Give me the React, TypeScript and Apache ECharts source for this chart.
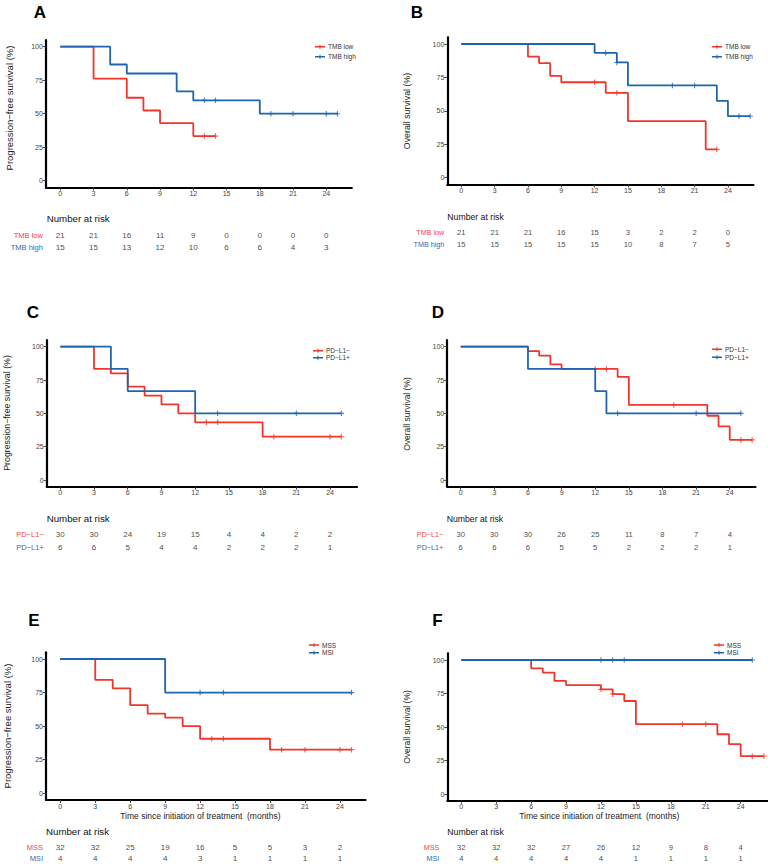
import React, { useEffect, useRef } from 'react';
import * as echarts from 'echarts';

const FONT = '"Liberation Sans", Arial, Helvetica, sans-serif';
const RED = '#F2352B';
const BLUE = '#1F64AE';
const RED_LABEL = '#F2453C';
const BLUE_LABEL = '#2A6CB8';

const xTicks = [0, 3, 6, 9, 12, 15, 18, 21, 24];
const yTicks = [0, 25, 50, 75, 100];
const riskTimes = [0, 3, 6, 9, 12, 15, 18, 21, 24];

// ---------- A: PFS by TMB ----------
const aLowTimes = [0, 3, 6, 7.5, 9, 12, 14];
const aLowSurv = [100, 76.2, 61.9, 52.4, 42.9, 33.3, 33.3];
const aLowCensor = [13, 14];
const aLowRisk = [21, 21, 16, 11, 9, 0, 0, 0, 0];
const aHighTimes = [0, 4.5, 6, 10.5, 12, 18, 25];
const aHighSurv = [100, 86.7, 80, 66.7, 60, 50, 50];
const aHighCensor = [13, 14, 19, 21, 24, 25];
const aHighRisk = [15, 15, 13, 12, 10, 6, 6, 4, 3];

// ---------- B: OS by TMB ----------
const bLowTimes = [0, 6, 7, 8, 9, 13, 15, 22, 23];
const bLowSurv = [100, 90.5, 85.7, 76.2, 71.4, 63.5, 42.3, 21.2, 21.2];
const bLowCensor = [12, 14, 23];
const bLowRisk = [21, 21, 21, 16, 15, 3, 2, 2, 0];
const bHighTimes = [0, 12, 14, 15, 23, 24, 26];
const bHighSurv = [100, 93.3, 86.2, 69, 57.5, 46, 46];
const bHighCensor = [13, 14, 19, 21, 25, 26];
const bHighRisk = [15, 15, 15, 15, 15, 10, 8, 7, 5];

// ---------- C: PFS by PD-L1 ----------
const cNegTimes = [0, 3, 4.5, 6, 7.5, 9, 10.5, 12, 18, 25];
const cNegSurv = [100, 83.3, 80, 70, 63.3, 56.7, 50, 43.3, 32.5, 32.5];
const cNegCensor = [13, 14, 19, 24, 25];
const cNegRisk = [30, 30, 24, 19, 15, 4, 4, 2, 2];
const cPosTimes = [0, 4.5, 6, 12, 25];
const cPosSurv = [100, 83.3, 66.7, 50, 50];
const cPosCensor = [14, 21, 25];
const cPosRisk = [6, 6, 5, 4, 4, 2, 2, 2, 1];

// ---------- D: OS by PD-L1 ----------
const dNegTimes = [0, 6, 7, 8, 9, 14, 15, 22, 23, 24, 26];
const dNegSurv = [100, 96.7, 93.3, 86.7, 83.3, 77.4, 56.3, 48.2, 40.2, 30.1, 30.1];
const dNegCensor = [12, 13, 19, 25, 26];
const dNegRisk = [30, 30, 30, 26, 25, 11, 8, 7, 4];
const dPosTimes = [0, 6, 12, 13, 25];
const dPosSurv = [100, 83.3, 66.7, 50, 50];
const dPosCensor = [14, 21, 25];
const dPosRisk = [6, 6, 6, 5, 5, 2, 2, 2, 1];

// ---------- E: PFS by MSS/MSI ----------
const eMssTimes = [0, 3, 4.5, 6, 7.5, 9, 10.5, 12, 18, 25];
const eMssSurv = [100, 84.4, 78.1, 65.6, 59.4, 56.3, 50, 40.6, 32.5, 32.5];
const eMssCensor = [13, 14, 19, 21, 24, 25];
const eMssRisk = [32, 32, 25, 19, 16, 5, 5, 3, 2];
const eMsiTimes = [0, 9, 25];
const eMsiSurv = [100, 75, 75];
const eMsiCensor = [12, 14, 25];
const eMsiRisk = [4, 4, 4, 4, 3, 1, 1, 1, 1];

// ---------- F: OS by MSS/MSI ----------
const fMssTimes = [0, 6, 7, 8, 9, 12, 13, 14, 15, 22, 23, 24, 26];
const fMssSurv = [100, 93.8, 90.6, 84.4, 81.3, 78.1, 74.6, 69.4, 52.1, 44.6, 37.2, 28.2, 28.2];
const fMssCensor = [12, 13, 19, 21, 25, 26];
const fMssRisk = [32, 32, 32, 27, 26, 12, 9, 8, 4];
const fMsiTimes = [0, 25];
const fMsiSurv = [100, 100];
const fMsiCensor = [12, 13, 14, 25];
const fMsiRisk = [4, 4, 4, 4, 4, 1, 1, 1, 1];

const PFS_TITLE = 'Progression\u2212free survival (%)';
const OS_TITLE = 'Overall survival (%)';
const X_TITLE = 'Time since initiation of treatment  (months)';

const PLUS = 'path://M4,0H6V10H4Z M0,4H10V6H0Z';
const LEGEND_ICON = 'path://M0,2.6H20V5.4H0Z M9,0H11V8H9Z';

function survAt(times: number[], surv: number[], t: number) {
  let v = surv[0];
  for (let i = 0; i < times.length; i++) if (times[i] <= t) v = surv[i];
  return v;
}

const panels = [
  {
    label: 'A', labelX: 40, labelY: 12,
    x0: 60.3, ppm: 11.083, xmin: -1.3, xmax: 26.3, y100: 46.7, y0: 180.7,
    yTitle: PFS_TITLE, yTitleX: 9, yTitleY: 108, yTitleSize: 9.5,
    legend: { left: 315, first: 46.7, step: 10 },
    rows: [235, 247], nar: { x: 46.7, y: 218, size: 9.7 }, rowGap: 3, tableSize: 8, rowSize: 7.5,
    xTitle: null as any,
    groups: [
      { name: 'TMB low', color: RED, label: RED_LABEL, times: aLowTimes, surv: aLowSurv, censor: aLowCensor, risk: aLowRisk },
      { name: 'TMB high', color: BLUE, label: BLUE_LABEL, times: aHighTimes, surv: aHighSurv, censor: aHighCensor, risk: aHighRisk },
    ],
  },
  {
    label: 'B', labelX: 417, labelY: 12,
    x0: 461.3, ppm: 11.11, xmin: -1.26, xmax: 26.3, y100: 44, y0: 177.7,
    yTitle: OS_TITLE, yTitleX: 407, yTitleY: 111, yTitleSize: 8.8,
    legend: { left: 712, first: 46.7, step: 10 },
    rows: [232, 244], nar: { x: 447.3, y: 216.7, size: 8.7 }, rowGap: 3, tableSize: 7.6, rowSize: 7.2,
    xTitle: null as any,
    groups: [
      { name: 'TMB low', color: RED, label: RED_LABEL, times: bLowTimes, surv: bLowSurv, censor: bLowCensor, risk: bLowRisk },
      { name: 'TMB high', color: BLUE, label: BLUE_LABEL, times: bHighTimes, surv: bHighSurv, censor: bHighCensor, risk: bHighRisk },
    ],
  },
  {
    label: 'C', labelX: 33, labelY: 312,
    x0: 60.3, ppm: 11.24, xmin: -1.21, xmax: 26.4, y100: 346.7, y0: 480,
    yTitle: PFS_TITLE, yTitleX: 7, yTitleY: 413, yTitleSize: 8.8,
    legend: { left: 313, first: 350.7, step: 7 },
    rows: [534, 547], nar: { x: 46.7, y: 518, size: 9.7 }, rowGap: 3, tableSize: 8, rowSize: 7.5,
    xTitle: null as any,
    groups: [
      { name: 'PD\u2212L1\u2212', color: RED, label: RED_LABEL, times: cNegTimes, surv: cNegSurv, censor: cNegCensor, risk: cNegRisk },
      { name: 'PD\u2212L1+', color: BLUE, label: BLUE_LABEL, times: cPosTimes, surv: cPosSurv, censor: cPosCensor, risk: cPosRisk },
    ],
  },
  {
    label: 'D', labelX: 438, labelY: 312,
    x0: 460.7, ppm: 11.21, xmin: -1.2, xmax: 26.3, y100: 346.7, y0: 480,
    yTitle: OS_TITLE, yTitleX: 407, yTitleY: 414, yTitleSize: 8.5,
    legend: { left: 712, first: 349.3, step: 8 },
    rows: [534, 547], nar: { x: 446.7, y: 519, size: 8.7 }, rowGap: 4, tableSize: 7.6, rowSize: 7.2,
    xTitle: null as any,
    groups: [
      { name: 'PD\u2212L1\u2212', color: RED, label: RED_LABEL, times: dNegTimes, surv: dNegSurv, censor: dNegCensor, risk: dNegRisk },
      { name: 'PD\u2212L1+', color: BLUE, label: BLUE_LABEL, times: dPosTimes, surv: dPosSurv, censor: dPosCensor, risk: dPosRisk },
    ],
  },
  {
    label: 'E', labelX: 34, labelY: 620,
    x0: 60.3, ppm: 11.65, xmin: -1.23, xmax: 26.2, y100: 659, y0: 793.3,
    yTitle: PFS_TITLE, yTitleX: 7, yTitleY: 726, yTitleSize: 9.5,
    legend: { left: 309, first: 645, step: 7.7 },
    rows: [847.7, 859], nar: { x: 46, y: 831, size: 9.7 }, rowGap: 3, tableSize: 8, rowSize: 7.5,
    xTitle: { x: 200.4, y: 816, size: 8.5 },
    groups: [
      { name: 'MSS', color: RED, label: RED_LABEL, times: eMssTimes, surv: eMssSurv, censor: eMssCensor, risk: eMssRisk },
      { name: 'MSI', color: BLUE, label: BLUE_LABEL, times: eMsiTimes, surv: eMsiSurv, censor: eMsiCensor, risk: eMsiRisk },
    ],
  },
  {
    label: 'F', labelX: 437.5, labelY: 620,
    x0: 461.3, ppm: 11.64, xmin: -1.2, xmax: 26.3, y100: 660, y0: 794,
    yTitle: OS_TITLE, yTitleX: 407, yTitleY: 727, yTitleSize: 8.5,
    legend: { left: 714, first: 645, step: 7.7 },
    rows: [848, 859], nar: { x: 447.3, y: 831.7, size: 8.7 }, rowGap: 8, tableSize: 7.6, rowSize: 7.2,
    xTitle: { x: 599.3, y: 816, size: 8.5 },
    groups: [
      { name: 'MSS', color: RED, label: RED_LABEL, times: fMssTimes, surv: fMssSurv, censor: fMssCensor, risk: fMssRisk },
      { name: 'MSI', color: BLUE, label: BLUE_LABEL, times: fMsiTimes, surv: fMsiSurv, censor: fMsiCensor, risk: fMsiRisk },
    ],
  },
];

function buildOption() {
  const grid: any[] = [];
  const xAxis: any[] = [];
  const yAxis: any[] = [];
  const series: any[] = [];
  const legend: any[] = [];
  const elements: any[] = [];

  panels.forEach((p, i) => {
    const ppy = (p.y0 - p.y100) / 100;
    const gTop = p.y100 - 5 * ppy;
    const gH = 110 * ppy;
    const gLeft = p.x0 + p.xmin * p.ppm;
    const gW = (p.xmax - p.xmin) * p.ppm;
    const band = p.rows[1] - p.rows[0];
    grid.push({ left: gLeft, top: gTop, width: gW, height: gH });
    grid.push({ left: gLeft, top: p.rows[0] - band / 2, width: gW, height: band * 2 });
    const gi = 2 * i;

    const axisLine = { show: true, onZero: false, lineStyle: { color: '#000', width: 2.2 } };
    const tickStyle = { color: '#333', width: 0.9 };
    xAxis.push({
      gridIndex: gi, type: 'value', min: p.xmin, max: p.xmax,
      axisLine,
      axisTick: { show: true, customValues: xTicks, length: 3, lineStyle: tickStyle },
      axisLabel: { customValues: xTicks, fontSize: 7, color: '#444', margin: 2.5, fontFamily: FONT },
      splitLine: { show: false },
    });
    xAxis.push({ gridIndex: gi + 1, type: 'value', min: p.xmin, max: p.xmax, show: false });
    yAxis.push({
      gridIndex: gi, type: 'value', min: -5, max: 105,
      axisLine,
      axisTick: { show: true, customValues: yTicks, length: 3, lineStyle: tickStyle },
      axisLabel: { customValues: yTicks, fontSize: 7, color: '#444', margin: 3, fontFamily: FONT },
      splitLine: { show: false },
    });
    yAxis.push({
      gridIndex: gi + 1, type: 'category', inverse: true,
      data: p.groups.map((g) => g.name),
      axisLine: { show: false }, axisTick: { show: false }, splitLine: { show: false },
      axisLabel: {
        margin: p.rowGap, fontSize: p.rowSize, fontFamily: FONT,
        formatter: (v: string, idx: number) => `{g${idx}|${v}}`,
        rich: {
          g0: { color: p.groups[0].label, fontSize: p.rowSize, fontFamily: FONT },
          g1: { color: p.groups[1].label, fontSize: p.rowSize, fontFamily: FONT },
        },
      },
    });

    p.groups.forEach((g) => {
      series.push({
        type: 'line', name: g.name, xAxisIndex: gi, yAxisIndex: gi, step: 'end',
        data: g.times.map((t, j) => [t, g.surv[j]]),
        symbol: 'none', showSymbol: false, silent: true,
        lineStyle: { color: g.color, width: 1.8 }, itemStyle: { color: g.color },
      });
      series.push({
        type: 'scatter', name: g.name + ' censored', xAxisIndex: gi, yAxisIndex: gi,
        data: g.censor.map((t) => [t, survAt(g.times, g.surv, t)]),
        symbol: PLUS, symbolSize: 5.5, silent: true,
        itemStyle: { color: g.color },
      });
      series.push({
        type: 'scatter', name: g.name + ' at risk', xAxisIndex: gi + 1, yAxisIndex: gi + 1,
        data: riskTimes.map((t, j) => [t, g.name, g.risk[j]]),
        symbolSize: 0.01, silent: true,
        label: {
          show: true, position: 'inside', formatter: (q: any) => String(q.value[2]),
          fontSize: p.tableSize, color: '#111', fontFamily: FONT,
        },
      });
    });

    legend.push({
      left: p.legend.left, top: p.legend.first - p.legend.step / 2,
      orient: 'vertical', padding: 0, itemGap: 0, itemWidth: 10, itemHeight: 4,
      selectedMode: false,
      data: p.groups.map((g) => ({ name: g.name, icon: LEGEND_ICON })),
      textStyle: { fontSize: 6.5, lineHeight: p.legend.step, color: '#333', fontFamily: FONT, padding: [0, 0, 0, -2] },
    });

    elements.push({
      type: 'text', x: p.labelX, y: p.labelY, silent: true,
      style: { text: p.label, fontSize: 17, fontWeight: 'bold', fontFamily: FONT, fill: '#000', align: 'center', verticalAlign: 'middle' },
    });
    elements.push({
      type: 'text', x: p.nar.x, y: p.nar.y, silent: true,
      style: { text: 'Number at risk', fontSize: p.nar.size, fontFamily: FONT, fill: '#111', align: 'left', verticalAlign: 'middle' },
    });
    elements.push({
      type: 'text', x: p.yTitleX, y: p.yTitleY, rotation: Math.PI / 2, silent: true,
      style: { text: p.yTitle, fontSize: p.yTitleSize, fontFamily: FONT, fill: '#222', align: 'center', verticalAlign: 'middle' },
    });
    if (p.xTitle) {
      elements.push({
        type: 'text', x: p.xTitle.x, y: p.xTitle.y, silent: true,
        style: { text: X_TITLE, fontSize: p.xTitle.size, fontFamily: FONT, fill: '#222', align: 'center', verticalAlign: 'middle' },
      });
    }
  });

  return {
    animation: false,
    backgroundColor: '#fff',
    textStyle: { fontFamily: FONT },
    grid, xAxis, yAxis, series, legend,
    graphic: { elements },
  };
}

export default function App() {
  const ref = useRef<HTMLDivElement>(null);
  useEffect(() => {
    if (!ref.current) return;
    const chart = echarts.init(ref.current, undefined, { renderer: 'svg' });
    chart.setOption(buildOption());
    return () => chart.dispose();
  }, []);
  return (
    <div
      ref={ref}
      style={{ position: 'absolute', left: 0, top: 0, width: 768, height: 864, background: '#fff' }}
    />
  );
}
